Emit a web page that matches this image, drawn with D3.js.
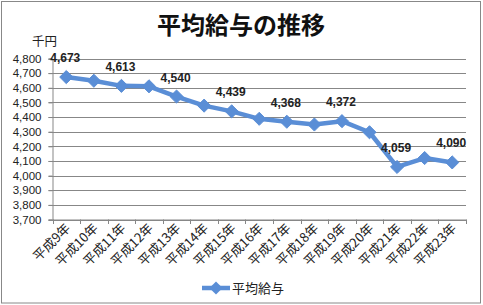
<!DOCTYPE html>
<html><head><meta charset="utf-8">
<script src="https://cdn.jsdelivr.net/npm/d3@7"></script>
<style>body{margin:0;background:#fff}svg{display:block}</style>
</head><body>
<script>
const categories = ["平成9年","平成10年","平成11年","平成12年","平成13年","平成14年","平成15年","平成16年","平成17年","平成18年","平成19年","平成20年","平成21年","平成22年","平成23年"];
const values = [4673,4648,4613,4610,4540,4478,4439,4388,4368,4349,4372,4296,4059,4120,4090];
const labeled = [true,false,true,false,true,false,true,false,true,false,true,false,true,false,true];
const yTicks = [3700,3800,3900,4000,4100,4200,4300,4400,4500,4600,4700,4800];
const title = "平均給与の推移";
const unit = "千円";
const seriesName = "平均給与";

const W = 483, H = 305;
const color = "#5A8ED6";
const grid = "#878787";
const jp = "'Noto Sans CJK JP', sans-serif";
const num = "'Liberation Sans', Arial, sans-serif";

const svg = d3.select("body").append("svg").attr("width", W).attr("height", H);
svg.append("rect").attr("x",1.5).attr("y",1.5).attr("width",W-4).attr("height",H-3.5)
  .attr("fill","#fff").attr("stroke","#888").attr("stroke-width",1);

const x = d3.scaleBand().domain(categories).range([52.5, 466]);
const y = d3.scaleLinear().domain([3700, 4800]).range([219.5, 58.5]);

// gridlines
svg.append("g").selectAll("line").data(yTicks).join("line")
  .attr("x1", 48.5).attr("x2", 466).attr("y1", d => Math.round(y(d)) + 0.5).attr("y2", d => Math.round(y(d)) + 0.5)
  .attr("stroke", grid).attr("stroke-width", 1);

// y axis
const yAxis = svg.append("g").attr("transform","translate(52.5,0)")
  .call(d3.axisLeft(y).tickValues(yTicks).tickFormat(d3.format(",")).tickSize(4));
yAxis.select(".domain").attr("stroke", grid);
yAxis.selectAll(".tick line").attr("stroke", grid);
yAxis.selectAll("text").attr("font-family", num).attr("font-size", 11.5).attr("fill","#222").attr("x", -11);

// x axis
const xAxis = svg.append("g").attr("transform","translate(0,219.5)")
  .call(d3.axisBottom(x).tickSize(0).tickFormat(""));
xAxis.select(".domain").attr("stroke", grid);
const bounds = [0].concat(categories.map((c,i)=>i+1));
svg.append("g").selectAll("line").data(bounds).join("line")
  .attr("x1", i => Math.round(52.5 + i * x.step()) + 0.5)
  .attr("x2", i => Math.round(52.5 + i * x.step()) + 0.5)
  .attr("y1", 219.5).attr("y2", 224).attr("stroke", grid);

svg.append("g").selectAll("text").data(categories).join("text")
  .attr("transform", d => `translate(${x(d) + x.bandwidth()/2 + 5},${229}) rotate(-45)`)
  .attr("text-anchor","end").attr("font-family", jp).attr("font-size", 13).attr("fill","#222")
  .text(d => d);

// line
const line = d3.line().x((d,i) => x(categories[i]) + x.bandwidth()/2).y(d => y(d));
svg.append("path").datum(values).attr("d", line).attr("fill","none")
  .attr("stroke", color).attr("stroke-width", 4.5).attr("stroke-linejoin","round");

const diamond = d3.symbol().type(d3.symbolDiamond2).size(110);
svg.append("g").selectAll("path").data(values).join("path")
  .attr("d", diamond)
  .attr("transform", (d,i) => `translate(${x(categories[i]) + x.bandwidth()/2},${y(d)})`)
  .attr("fill", color).attr("stroke", color).attr("stroke-width", 1);

// data labels
svg.append("g").selectAll("text").data(values.map((v,i)=>({v,i})).filter(d => labeled[d.i])).join("text")
  .attr("x", d => x(categories[d.i]) + x.bandwidth()/2 - 1)
  .attr("y", d => y(d.v) - 15)
  .attr("text-anchor","middle").attr("font-family", num).attr("font-weight","bold")
  .attr("font-size", 12).attr("fill","#222")
  .text(d => d3.format(",")(d.v));

// title
svg.append("text").attr("x", 241).attr("y", 34).attr("text-anchor","middle")
  .attr("font-family", jp).attr("font-weight","bold").attr("font-size", 24).attr("fill","#111")
  .text(title);

svg.append("text").attr("x", 32).attr("y", 46).attr("font-family", jp).attr("font-size", 12.5).attr("fill","#222").text(unit);

// legend
svg.append("line").attr("x1",202).attr("x2",230).attr("y1",288).attr("y2",288).attr("stroke",color).attr("stroke-width",4.5);
svg.append("path").attr("d", diamond).attr("transform","translate(216,288)").attr("fill",color);
svg.append("text").attr("x",232).attr("y",293).attr("font-family", jp).attr("font-size", 13).attr("fill","#222").text(seriesName);
</script>
</body></html>
